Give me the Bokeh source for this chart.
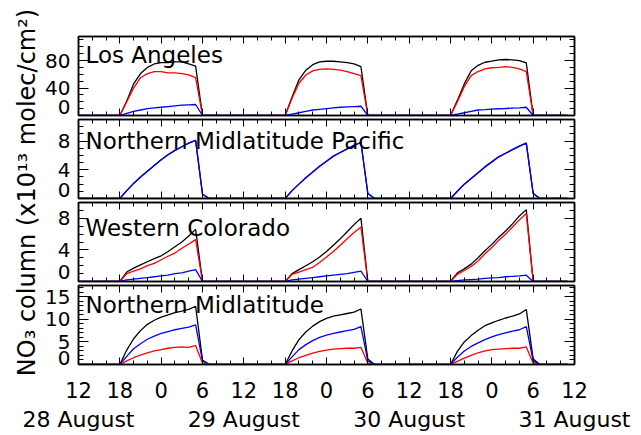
from math import pi
from bokeh.plotting import figure
from bokeh.models import Range1d, LinearAxis, FixedTicker, Label
from bokeh.layouts import row, column
from bokeh.embed import file_html
from bokeh.resources import INLINE

# hours after 12:00 on 28 August (hourly model output)
hours = list(range(72))

# ---- Los Angeles (x1e13 molec/cm2)
la_black = [0, 0, 0, 0, 0, 0, 0,
            21, 46, 61, 70, 75, 77, 77, 78, 78, 75, 72, 0,
            0, 0, 0, 0, 0, 0, 0, 0, 0, 0, 0, 0,
            27, 52, 66, 74, 78, 79, 79, 78, 77, 75, 71, 0,
            0, 0, 0, 0, 0, 0, 0, 0, 0, 0, 0, 0,
            22, 46, 65, 73, 77.5, 79, 81, 81.5, 81, 80, 76.5, 0,
            0, 0, 0, 0, 0]
la_red = [0, 0, 0, 0, 0, 0, 0,
          20, 40, 55, 61, 64, 64, 62, 62, 61, 59, 55, 0,
          0, 0, 0, 0, 0, 0, 0, 0, 0, 0, 0, 0,
          25, 47, 59, 65, 67, 68, 67, 66, 64, 61, 58, 0,
          0, 0, 0, 0, 0, 0, 0, 0, 0, 0, 0, 0,
          20, 42, 58, 64, 68, 69.5, 70, 71, 70, 68, 64, 0,
          0, 0, 0, 0, 0]
la_blue = [0, 0, 0, 0, 0, 0, 0,
           3, 6, 8, 10, 11, 12, 13, 14, 15, 15.5, 16, 0,
           0, 0, 0, 0, 0, 0, 0, 0, 0, 0, 0, 0,
           2, 4, 6, 8, 9, 10, 11, 12, 12.5, 13, 13.5, 0,
           0, 0, 0, 0, 0, 0, 0, 0, 0, 0, 0, 0,
           2, 4, 6, 8, 8.5, 9.2, 9.8, 10.2, 10.8, 11.2, 12, 0,
           0, 0, 0, 0, 0]

# ---- Northern Midlatitude Pacific
pac_black = [0, 0, 0, 0, 0, 0, 0,
             1.1, 2.1, 3.0, 3.8, 4.6, 5.4, 6.1, 6.7, 7.2, 7.7, 8.1, 0.6,
             0, 0, 0, 0, 0, 0, 0, 0, 0, 0, 0, 0,
             1.1, 2.0, 2.9, 3.7, 4.5, 5.2, 5.9, 6.4, 6.9, 7.4, 7.8, 0.7,
             0, 0, 0, 0, 0, 0, 0, 0, 0, 0, 0, 0,
             1.0, 2.0, 2.8, 3.6, 4.4, 5.1, 5.8, 6.3, 6.8, 7.3, 7.7, 0.7,
             0, 0, 0, 0, 0]
pac_red = [0, 0, 0, 0, 0, 0, 0,
           0, 0, 0, 0, 0, 0, 0, 0, 0, 0, 0, 0,
           0, 0, 0, 0, 0, 0, 0, 0, 0, 0, 0, 0,
           0, 0, 0, 0, 0, 0, 0, 0, 0, 0, 0, 0,
           0, 0, 0, 0, 0, 0, 0, 0, 0, 0, 0, 0,
           0, 0, 0, 0, 0, 0, 0, 0, 0, 0, 0, 0,
           0, 0, 0, 0, 0]
pac_blue = [0, 0, 0, 0, 0, 0, 0,
            1.1, 2.1, 3.0, 3.8, 4.6, 5.4, 6.1, 6.7, 7.2, 7.7, 8.1, 0.6,
            0, 0, 0, 0, 0, 0, 0, 0, 0, 0, 0, 0,
            1.1, 2.0, 2.9, 3.7, 4.5, 5.2, 5.9, 6.4, 6.9, 7.4, 7.8, 0.7,
            0, 0, 0, 0, 0, 0, 0, 0, 0, 0, 0, 0,
            1.0, 2.0, 2.8, 3.6, 4.4, 5.1, 5.8, 6.3, 6.8, 7.3, 7.7, 0.7,
            0, 0, 0, 0, 0]

# ---- Western Colorado
col_black = [0, 0, 0, 0, 0, 0, 0,
             1.2, 1.7, 2.1, 2.5, 2.9, 3.25, 3.8, 4.4, 5.0, 5.75, 6.6, 0,
             0, 0, 0, 0, 0, 0, 0, 0, 0, 0, 0, 0,
             1.0, 1.5, 2.0, 2.5, 3.1, 3.8, 4.6, 5.4, 6.3, 7.2, 8.0, 0,
             0, 0, 0, 0, 0, 0, 0, 0, 0, 0, 0, 0,
             1.1, 1.6, 2.2, 3.0, 3.9, 4.7, 5.6, 6.4, 7.3, 8.3, 9.1, 0,
             0, 0, 0, 0, 0]
col_red = [0, 0, 0, 0, 0, 0, 0,
           1.0, 1.3, 1.6, 2.0, 2.3, 2.75, 3.2, 3.6, 4.2, 4.75, 5.3, 0,
           0, 0, 0, 0, 0, 0, 0, 0, 0, 0, 0, 0,
           0.9, 1.2, 1.5, 1.8, 2.4, 3.1, 3.8, 4.6, 5.4, 6.2, 6.9, 0,
           0, 0, 0, 0, 0, 0, 0, 0, 0, 0, 0, 0,
           0.9, 1.4, 1.9, 2.6, 3.5, 4.3, 5.2, 6.0, 6.9, 7.8, 8.6, 0,
           0, 0, 0, 0, 0]
col_blue = [0, 0, 0, 0, 0, 0, 0,
            0.2, 0.3, 0.4, 0.5, 0.6, 0.7, 0.8, 1.0, 1.1, 1.3, 1.5, 0,
            0, 0, 0, 0, 0, 0, 0, 0, 0, 0, 0, 0,
            0.2, 0.3, 0.4, 0.5, 0.6, 0.7, 0.8, 0.9, 1.0, 1.15, 1.3, 0,
            0, 0, 0, 0, 0, 0, 0, 0, 0, 0, 0, 0,
            0.1, 0.2, 0.25, 0.3, 0.4, 0.45, 0.5, 0.6, 0.65, 0.7, 0.8, 0,
            0, 0, 0, 0, 0]

# ---- Northern Midlatitude
nm_black = [0, 0, 0, 0, 0, 0, 0,
            3.2, 5.7, 7.5, 8.9, 9.8, 10.5, 11.0, 11.5, 11.8, 12.2, 12.9, 1.0,
            0, 0, 0, 0, 0, 0, 0, 0, 0, 0, 0, 0,
            3.0, 5.5, 7.2, 8.5, 9.5, 10.2, 10.7, 11.0, 11.3, 11.6, 12.3, 1.2,
            0, 0, 0, 0, 0, 0, 0, 0, 0, 0, 0, 0,
            2.9, 5.0, 6.4, 7.6, 8.6, 9.2, 9.8, 10.3, 10.7, 11.2, 12.2, 1.2,
            0, 0, 0, 0, 0]
nm_red = [0, 0, 0, 0, 0, 0, 0,
          0.8, 1.5, 2.1, 2.6, 3.0, 3.3, 3.6, 3.8, 3.9, 3.8, 4.2, 0.3,
          0, 0, 0, 0, 0, 0, 0, 0, 0, 0, 0, 0,
          0.8, 1.5, 2.0, 2.5, 2.9, 3.2, 3.4, 3.5, 3.6, 3.6, 3.8, 0.3,
          0, 0, 0, 0, 0, 0, 0, 0, 0, 0, 0, 0,
          0.7, 1.4, 2.0, 2.6, 3.0, 3.3, 3.4, 3.5, 3.6, 3.6, 3.9, 0.3,
          0, 0, 0, 0, 0]
nm_blue = [0, 0, 0, 0, 0, 0, 0,
           1.8, 3.5, 4.6, 5.6, 6.3, 6.9, 7.3, 7.7, 8.0, 8.3, 8.8, 0.8,
           0, 0, 0, 0, 0, 0, 0, 0, 0, 0, 0, 0,
           1.7, 3.3, 4.4, 5.3, 6.0, 6.5, 6.9, 7.2, 7.5, 7.8, 8.4, 0.8,
           0, 0, 0, 0, 0, 0, 0, 0, 0, 0, 0, 0,
           1.6, 3.0, 4.0, 4.8, 5.5, 6.1, 6.6, 7.0, 7.4, 7.7, 8.4, 0.8,
           0, 0, 0, 0, 0]

panel_names = ["Los Angeles", "Northern Midlatitude Pacific",
               "Western Colorado", "Northern Midlatitude"]

x_tick_hours = [0, 6, 12, 18, 24, 30, 36, 42, 48, 54, 60, 66, 72]
x_tick_labels = ["12", "18", "0", "6", "12", "18", "0", "6", "12", "18", "0", "6", "12"]
date_tick_hours = [0, 24, 48, 72]
date_labels = ["28 August", "29 August", "30 August", "31 August"]

y_title = "NO\u2083 column (x10\u00b9\u00b3 molec/cm\u00b2)"

FONT = "DejaVu Sans"
TITLE_W = 42
FRAME_W = 496
PANEL_W = 598
LEFT = 36
RIGHT = PANEL_W - LEFT - FRAME_W


def ticks_only(ax, major, minor, tin, tmin):
    ax.ticker = FixedTicker(ticks=major, minor_ticks=minor)
    ax.major_tick_in = tin
    ax.major_tick_out = 0
    ax.minor_tick_in = tmin
    ax.minor_tick_out = 0
    ax.axis_line_color = "black"
    ax.axis_line_width = 1.5
    ax.major_tick_line_color = "black"
    ax.minor_tick_line_color = "black"
    ax.major_tick_line_width = 1
    ax.minor_tick_line_width = 1
    ax.major_label_text_color = None
    ax.major_label_text_font_size = "0px"
    ax.major_label_standoff = 0


def labels_only(ax, ticks, overrides, size, standoff):
    ax.ticker = FixedTicker(ticks=ticks, minor_ticks=[])
    ax.major_label_overrides = overrides
    ax.major_tick_in = 0
    ax.major_tick_out = 0
    ax.minor_tick_in = 0
    ax.minor_tick_out = 0
    ax.axis_line_color = None
    ax.major_tick_line_color = None
    ax.minor_tick_line_color = None
    ax.major_label_text_font = FONT
    ax.major_label_text_font_size = size
    ax.major_label_text_color = "black"
    ax.major_label_standoff = standoff


def make_panel(name, ymax, yticks, yminor, zero_lift, black, red, blue,
               top, bottom, name_base, show_x):
    frame_h = 79
    p = figure(width=PANEL_W, height=top + frame_h + bottom,
               x_range=Range1d(0, 72), y_range=Range1d(0, ymax),
               output_backend="svg", toolbar_location=None,
               min_border_left=LEFT, min_border_right=RIGHT,
               min_border_top=top, min_border_bottom=bottom,
               background_fill_color="white", border_fill_color="white")
    p.grid.visible = False
    p.outline_line_color = "black"
    p.outline_line_width = 1.5

    xminor = list(range(0, 73, 2))
    # bottom axis: ticks (and hour labels on the last panel)
    bx = p.xaxis[0]
    ticks_only(bx, x_tick_hours, xminor, 7, 4)
    if show_x:
        bx.major_label_overrides = dict(zip(x_tick_hours, x_tick_labels))
        bx.major_label_text_color = "black"
        bx.major_label_text_font = FONT
        bx.major_label_text_font_size = "21px"
        bx.major_label_standoff = 17
    # left axis: inner one with ticks, outer one with the labels
    ticks_only(p.yaxis[0], yticks, yminor, 10, 5)
    lab_ticks = [zero_lift] + yticks[1:]
    lab_text = ["0"] + [str(t) for t in yticks[1:]]
    ylab = LinearAxis()
    labels_only(ylab, lab_ticks, dict(zip(lab_ticks, lab_text)), "20px", 8)
    p.add_layout(ylab, "left")

    top_ax = LinearAxis()
    ticks_only(top_ax, x_tick_hours, xminor, 7, 4)
    p.add_layout(top_ax, "above")
    right_ax = LinearAxis()
    ticks_only(right_ax, yticks, yminor, 10, 5)
    p.add_layout(right_ax, "right")

    p.line(hours, black, line_color="black", line_width=1.3)
    p.line(hours, red, line_color="#ff0000", line_width=1.3)
    p.line(hours, blue, line_color="#0000ff", line_width=1.3)

    p.add_layout(Label(x=0, y=ymax, x_offset=7, y_offset=-name_base, text=name,
                       text_font=FONT, text_font_size="23px", text_color="black",
                       text_align="left", text_baseline="alphabetic"))
    return p


p1 = make_panel(panel_names[0], 115, [0, 40, 80], list(range(0, 116, 10)), 13,
                la_black, la_red, la_blue, 36, 3, 18, False)
p2 = make_panel(panel_names[1], 11, [0, 4, 8], list(range(0, 12)), 1.25,
                pac_black, pac_red, pac_blue, 1, 3, 21, False)
p3 = make_panel(panel_names[2], 10, [0, 4, 8], list(range(0, 11)), 1.15,
                col_black, col_red, col_blue, 1, 3, 25, False)
p4 = make_panel(panel_names[3], 17.5, [0, 5, 10, 15], list(range(0, 18)), 1.5,
                nm_black, nm_red, nm_blue, 1, 42, 19, True)

stack_h = sum(f.height for f in (p1, p2, p3, p4))

# rotated y title spanning all panels
tfig = figure(width=TITLE_W, height=stack_h, x_range=Range1d(0, 1), y_range=Range1d(0, 1),
              x_axis_location=None, y_axis_location=None, min_border=0,
              output_backend="svg", toolbar_location=None,
              background_fill_color="white", border_fill_color="white")
tfig.outline_line_color = None
tfig.grid.visible = False
tfig.add_layout(Label(x=26 / TITLE_W, y=1 - 192 / stack_h, angle=pi / 2, text=y_title,
                      text_font=FONT, text_font_size="24px", text_color="black",
                      text_align="center", text_baseline="middle"))

# date line under the hour labels
dfig = figure(width=TITLE_W + PANEL_W, height=28, x_range=Range1d(0, 72), y_range=Range1d(0, 1),
              y_axis_location=None, min_border_left=TITLE_W + LEFT, min_border_right=RIGHT,
              min_border_top=0, min_border_bottom=27,
              output_backend="svg", toolbar_location=None,
              background_fill_color="white", border_fill_color="white")
dfig.outline_line_color = None
dfig.grid.visible = False
labels_only(dfig.xaxis[0], date_tick_hours, dict(zip(date_tick_hours, date_labels)), "22px", 0)

layout = column(row(tfig, column(p1, p2, p3, p4)), dfig)

open("out.html", "w").write(file_html(layout, INLINE))
